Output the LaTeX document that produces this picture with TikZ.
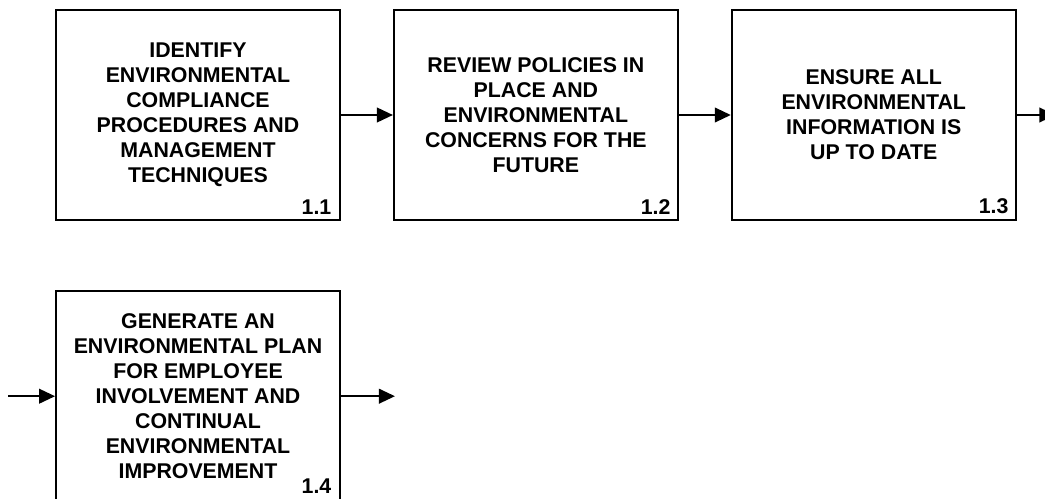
\documentclass[tikz,border=0pt]{standalone}
\usepackage{fontspec}
\setmainfont{Liberation Sans}
\usetikzlibrary{positioning,arrows.meta}

\tikzset{
  task/.style={draw, line width=1.4pt, minimum width=213pt, minimum height=157.5pt,
    align=center, inner sep=0pt, font=\bfseries\fontsize{16}{18.75}\selectfont},
  tasknum/.style={anchor=south east, inner sep=0pt, font=\bfseries\fontsize{16}{18.75}\selectfont},
  flow/.style={-{Triangle[length=12pt,width=11pt]}, line width=1.4pt},
}

\begin{document}
\begin{tikzpicture}[x=0.75pt,y=-0.75pt,node distance=39pt]
  \useasboundingbox (0,0) rectangle (1045,499);
  % first row
  \node[task] (b11) at (198,115) {IDENTIFY\\ENVIRONMENTAL\\COMPLIANCE\\PROCEDURES AND\\MANAGEMENT\\TECHNIQUES};
  \node[task,right=of b11] (b12) {REVIEW POLICIES IN\\PLACE AND\\ENVIRONMENTAL\\CONCERNS FOR THE\\FUTURE};
  \node[task,right=of b12] (b13) {ENSURE ALL\\ENVIRONMENTAL\\INFORMATION IS\\UP TO DATE};
  % second row
  \node[task,below=52pt of b11] (b14) {GENERATE AN\\ENVIRONMENTAL PLAN\\FOR EMPLOYEE\\INVOLVEMENT AND\\CONTINUAL\\ENVIRONMENTAL\\IMPROVEMENT};

  \node[tasknum] (n11) at ([shift={(-7pt,5pt)}]b11.south east) {1.1};
  \node[tasknum] (n12) at ([shift={(-6pt,5pt)}]b12.south east) {1.2};
  \node[tasknum] (n13) at ([shift={(-6pt,5pt)}]b13.south east) {1.3};
  \node[tasknum] (n14) at ([shift={(-7pt,6pt)}]b14.south east) {1.4};

  \coordinate[right=29pt of b13] (out13);
  \coordinate[left=35pt of b14] (in14);
  \coordinate[right=40.5pt of b14] (out14);

  \draw[flow] (b11.east) -- (b12.west);
  \draw[flow] (b12.east) -- (b13.west);
  \draw[flow] (b13.east) -- (out13);
  \draw[flow] (in14) -- (b14.west);
  \draw[flow] (b14.east) -- (out14);
\end{tikzpicture}
\end{document}
